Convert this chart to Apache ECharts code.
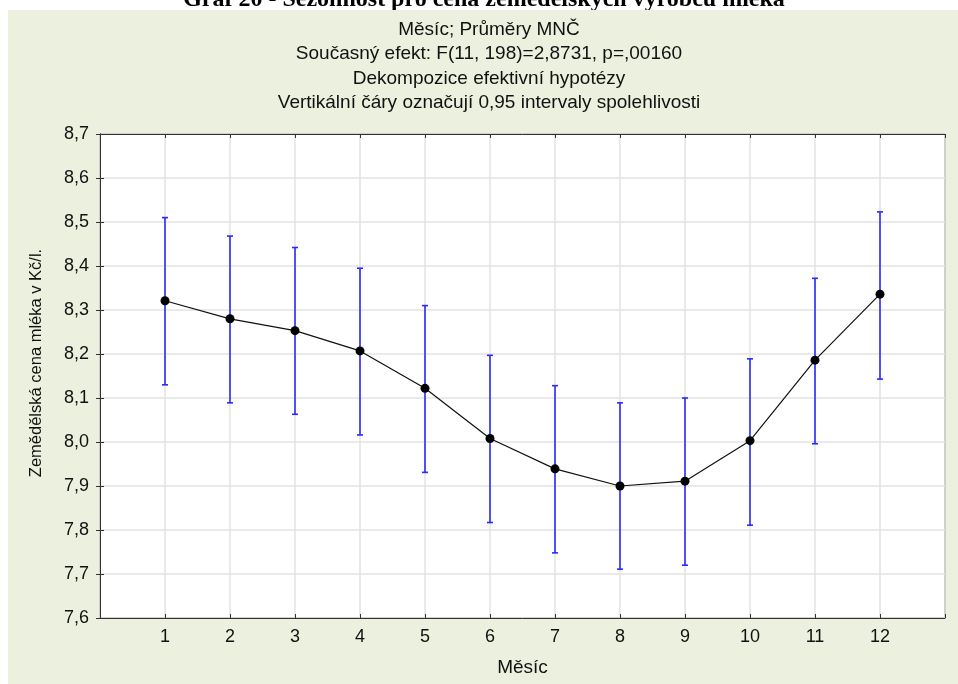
<!DOCTYPE html>
<html>
<head>
	<meta charset="utf-8">
	<title>echarts</title>
	<script type="text/javascript" src="https://cdn.jsdelivr.net/npm/echarts@6/dist/echarts.min.js"></script>
</head>
<body style="margin:0;background:#fff;">
	<div id="mychar" style="width: 958px;height:684px;"></div>

	<script type="text/javascript">
		// months and estimated MNČ means with 0,95 confidence limits
		var months = [1, 2, 3, 4, 5, 6, 7, 8, 9, 10, 11, 12];
		var means = [8.321, 8.280, 8.253, 8.207, 8.122, 8.008, 7.939, 7.900, 7.911, 8.003, 8.186, 8.336];
		var lower = [8.130, 8.089, 8.063, 8.016, 7.931, 7.817, 7.748, 7.711, 7.720, 7.811, 7.996, 8.143];
		var upper = [8.510, 8.468, 8.442, 8.395, 8.310, 8.197, 8.128, 8.089, 8.100, 8.189, 8.372, 8.523];
		var titleLines = [
			'Měsíc; Průměry MNČ',
			'Současný efekt: F(11, 198)=2,8731, p=,00160',
			'Dekompozice efektivní hypotézy',
			'Vertikální čáry označují 0,95 intervaly spolehlivosti'
		];

		var mychar = echarts.init(document.getElementById("mychar"));
		var font = 'Liberation Sans, Arial, sans-serif';

		var titles = titleLines.map(function (t, i) {
			return {
				text: t,
				left: 484,
				top: 15 + i * 24.5,
				textAlign: 'center',
				textStyle: {fontFamily: font, fontSize: 19, fontWeight: 'normal', color: '#111'}
			};
		});

		var fmt = function (v) { return v.toFixed(1).replace('.', ','); };

		var option = {
			backgroundColor: '#fff',
			animation: false,
			title: titles,
			graphic: [
				{
					type: 'text', x: 484, y: -12, z: -20,
					style: {text: 'Graf 20 - Sezonnost pro cena zemědělských výrobců mléka',
						align: 'center', verticalAlign: 'top',
						font: 'bold 24px "Liberation Serif", "Times New Roman", serif', fill: '#000'}
				},
				{
					type: 'rect', z: -10, shape: {x: 8, y: 10, width: 950, height: 674},
					style: {fill: '#EBF1DE'}
				}
			],
			grid: {
				left: 100, right: 13, top: 134, bottom: 66,
				show: true, backgroundColor: '#fff', borderColor: '#333', borderWidth: 1
			},
			xAxis: [
				{
					type: 'value', min: 0, max: 13, interval: 1,
					name: 'Měsíc', nameLocation: 'middle', nameGap: 40,
					nameTextStyle: {fontFamily: font, fontSize: 19, color: '#111'},
					axisLine: {lineStyle: {color: '#333'}},
					axisTick: {inside: true, length: 4, lineStyle: {color: '#333'}},
					axisLabel: {
						margin: 10, fontFamily: font, fontSize: 18, color: '#111',
						formatter: function (v) { return (v >= 1 && v <= 12) ? String(v) : ''; }
					},
					splitLine: {lineStyle: {color: '#e3e3e3', width: 1.5}}
				},
				{
					type: 'value', min: 0, max: 13, interval: 1, position: 'top',
					axisLine: {show: true, lineStyle: {color: '#333'}},
					axisTick: {inside: true, length: 4, lineStyle: {color: '#333'}},
					axisLabel: {show: false}, splitLine: {show: false}
				}
			],
			yAxis: [
				{
					type: 'value', min: 7.6, max: 8.7, interval: 0.1,
					name: 'Zemědělská cena mléka v Kč/l.', nameLocation: 'middle', nameGap: 55,
					nameTextStyle: {fontFamily: font, fontSize: 16.5, color: '#111', padding: [0, 0, 0, 26]},
					axisLine: {show: true, lineStyle: {color: '#333'}},
					axisTick: {show: true, inside: true, length: 4, lineStyle: {color: '#333'}},
					axisLabel: {margin: 11, fontFamily: font, fontSize: 18, color: '#111', formatter: fmt},
					splitLine: {lineStyle: {color: '#e3e3e3', width: 1.5}}
				},
				{
					type: 'value', min: 7.6, max: 8.7, interval: 0.1, position: 'right',
					axisLine: {show: true, lineStyle: {color: '#333'}},
					axisTick: {show: true, inside: true, length: 4, lineStyle: {color: '#333'}},
					axisLabel: {show: false}, splitLine: {show: false}
				}
			],
			series: [
				{
					type: 'custom',
					name: 'CI',
					z: 2,
					data: months.map(function (m, i) { return [m, lower[i], upper[i]]; }),
					renderItem: function (params, api) {
						var lo = api.coord([api.value(0), api.value(1)]);
						var hi = api.coord([api.value(0), api.value(2)]);
						var st = {stroke: '#2a2aff', lineWidth: 1.6};
						return {
							type: 'group',
							children: [
								{type: 'line', shape: {x1: lo[0], y1: lo[1], x2: hi[0], y2: hi[1]}, style: st},
								{type: 'line', shape: {x1: lo[0] - 3, y1: lo[1], x2: lo[0] + 3, y2: lo[1]}, style: st},
								{type: 'line', shape: {x1: hi[0] - 3, y1: hi[1], x2: hi[0] + 3, y2: hi[1]}, style: st}
							]
						};
					}
				},
				{
					type: 'line',
					name: 'Průměr',
					z: 3,
					data: months.map(function (m, i) { return [m, means[i]]; }),
					symbol: 'circle',
					symbolSize: 9,
					itemStyle: {color: '#000'},
					lineStyle: {color: '#111', width: 1.2}
				}
			]
		};

		mychar.setOption(option);
	</script>
</body>
</html>
